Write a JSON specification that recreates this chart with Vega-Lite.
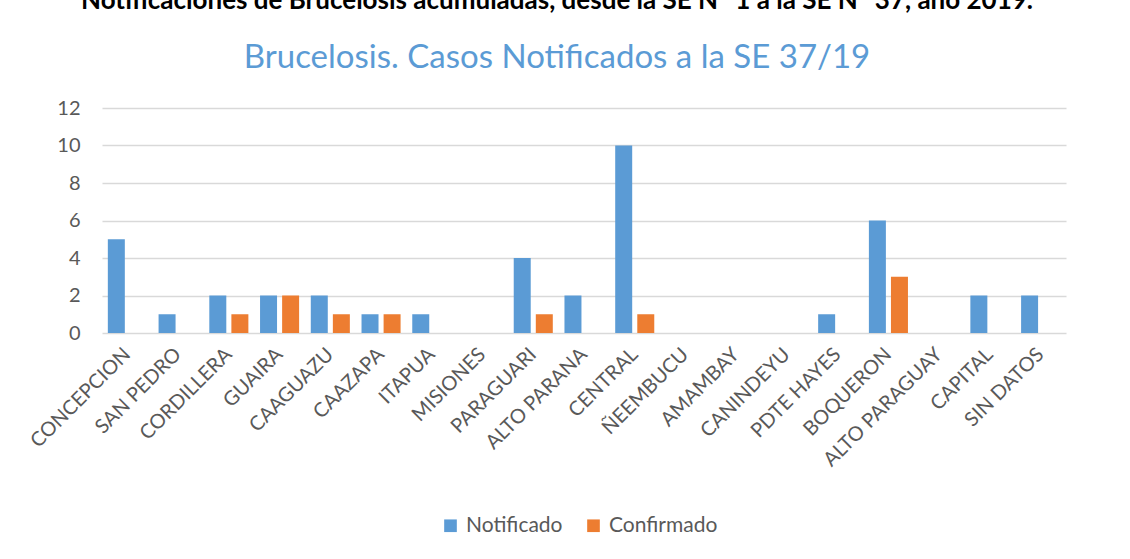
{
  "$schema": "https://vega.github.io/schema/vega-lite/v6.json",
  "autosize": {"type": "none"},
  "width": 964,
  "height": 225,
  "padding": {"left": 102, "top": 108, "right": 64, "bottom": 226},
  "background": "white",
  "title": {
    "text": "Notificaciones de Brucelosis acumuladas, desde la SE N° 1 a la SE N° 37, año 2019.",
    "subtitle": "Brucelosis. Casos Notificados  a la SE 37/19",
    "anchor": "middle",
    "dx": -27,
    "font": "Lato",
    "fontSize": 26,
    "fontWeight": "bold",
    "color": "#000000",
    "subtitleFont": "Lato",
    "subtitleFontSize": 33,
    "subtitleColor": "#5B9BD5",
    "subtitlePadding": 28,
    "offset": 23
  },
  "data": {
    "values": [
      {"dep": "CONCEPCION", "serie": "Notificado", "casos": 5},
      {"dep": "CONCEPCION", "serie": "Confirmado", "casos": 0},
      {"dep": "SAN PEDRO", "serie": "Notificado", "casos": 1},
      {"dep": "SAN PEDRO", "serie": "Confirmado", "casos": 0},
      {"dep": "CORDILLERA", "serie": "Notificado", "casos": 2},
      {"dep": "CORDILLERA", "serie": "Confirmado", "casos": 1},
      {"dep": "GUAIRA", "serie": "Notificado", "casos": 2},
      {"dep": "GUAIRA", "serie": "Confirmado", "casos": 2},
      {"dep": "CAAGUAZU", "serie": "Notificado", "casos": 2},
      {"dep": "CAAGUAZU", "serie": "Confirmado", "casos": 1},
      {"dep": "CAAZAPA", "serie": "Notificado", "casos": 1},
      {"dep": "CAAZAPA", "serie": "Confirmado", "casos": 1},
      {"dep": "ITAPUA", "serie": "Notificado", "casos": 1},
      {"dep": "ITAPUA", "serie": "Confirmado", "casos": 0},
      {"dep": "MISIONES", "serie": "Notificado", "casos": 0},
      {"dep": "MISIONES", "serie": "Confirmado", "casos": 0},
      {"dep": "PARAGUARI", "serie": "Notificado", "casos": 4},
      {"dep": "PARAGUARI", "serie": "Confirmado", "casos": 1},
      {"dep": "ALTO PARANA", "serie": "Notificado", "casos": 2},
      {"dep": "ALTO PARANA", "serie": "Confirmado", "casos": 0},
      {"dep": "CENTRAL", "serie": "Notificado", "casos": 10},
      {"dep": "CENTRAL", "serie": "Confirmado", "casos": 1},
      {"dep": "ÑEEMBUCU", "serie": "Notificado", "casos": 0},
      {"dep": "ÑEEMBUCU", "serie": "Confirmado", "casos": 0},
      {"dep": "AMAMBAY", "serie": "Notificado", "casos": 0},
      {"dep": "AMAMBAY", "serie": "Confirmado", "casos": 0},
      {"dep": "CANINDEYU", "serie": "Notificado", "casos": 0},
      {"dep": "CANINDEYU", "serie": "Confirmado", "casos": 0},
      {"dep": "PDTE HAYES", "serie": "Notificado", "casos": 1},
      {"dep": "PDTE HAYES", "serie": "Confirmado", "casos": 0},
      {"dep": "BOQUERON", "serie": "Notificado", "casos": 6},
      {"dep": "BOQUERON", "serie": "Confirmado", "casos": 3},
      {"dep": "ALTO PARAGUAY", "serie": "Notificado", "casos": 0},
      {"dep": "ALTO PARAGUAY", "serie": "Confirmado", "casos": 0},
      {"dep": "CAPITAL", "serie": "Notificado", "casos": 2},
      {"dep": "CAPITAL", "serie": "Confirmado", "casos": 0},
      {"dep": "SIN DATOS", "serie": "Notificado", "casos": 2},
      {"dep": "SIN DATOS", "serie": "Confirmado", "casos": 0}
    ]
  },
  "mark": {"type": "bar"},
  "encoding": {
    "x": {
      "field": "dep",
      "type": "nominal",
      "sort": null,
      "title": null,
      "scale": {"paddingInner": 0.23, "paddingOuter": 0.115},
      "axis": {
        "labelAngle": -45,
        "labelAlign": "right",
        "labelBaseline": "middle",
        "labelFont": "Lato",
        "labelFontSize": 20,
        "labelColor": "#595959",
        "labelPadding": 18,
        "ticks": false,
        "domain": false,
        "grid": false
      }
    },
    "xOffset": {
      "field": "serie",
      "type": "nominal",
      "sort": ["Notificado", "Confirmado"],
      "scale": {"paddingInner": 0.23}
    },
    "y": {
      "field": "casos",
      "type": "quantitative",
      "title": null,
      "scale": {"domain": [0, 12]},
      "axis": {
        "values": [0, 2, 4, 6, 8, 10, 12],
        "labelFont": "Lato",
        "labelFontSize": 20,
        "labelColor": "#595959",
        "labelPadding": 22,
        "ticks": false,
        "domain": false,
        "grid": true,
        "gridColor": "#D9D9D9",
        "gridWidth": 1.5
      }
    },
    "color": {
      "field": "serie",
      "type": "nominal",
      "sort": ["Notificado", "Confirmado"],
      "scale": {"domain": ["Notificado", "Confirmado"], "range": ["#5B9BD5", "#ED7D31"]},
      "legend": {
        "title": null,
        "orient": "none",
        "legendX": 338,
        "legendY": 407,
        "padding": 0,
        "direction": "horizontal",
        "symbolType": "square",
        "symbolSize": 160,
        "symbolStrokeWidth": 0,
        "labelFont": "Lato",
        "labelFontSize": 21,
        "labelColor": "#595959",
        "labelOffset": 5,
        "columnPadding": 20
      }
    }
  },
  "config": {"view": {"stroke": null}}
}
